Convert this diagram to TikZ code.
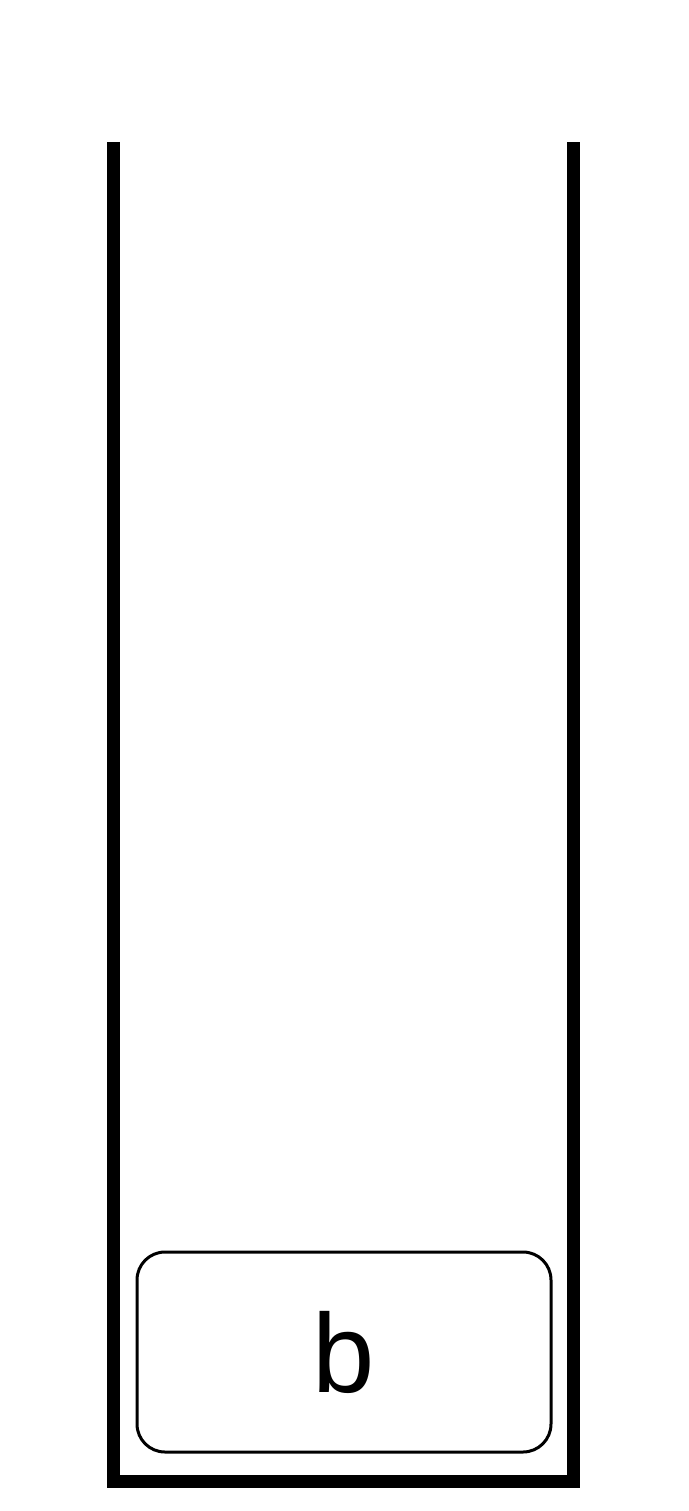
\documentclass[tikz,border=0pt]{standalone}
\usepackage{fontspec}
\setmainfont{Liberation Sans}
\begin{document}
\begin{tikzpicture}[x=1pt,y=-1pt,
  item/.style={draw,line width=3pt,rounded corners=28pt,minimum width=414pt,minimum height=200pt,inner sep=0pt,font=\fontsize{112}{134}\selectfont}]
  \useasboundingbox (0,0) rectangle (688,1511);
  % container walls
  \draw[line width=13pt] (113.5,142)--(113.5,1481)--(573,1481)--(573,142);
  \node[item] (b) at (344,1352) {b};
\end{tikzpicture}
\end{document}
